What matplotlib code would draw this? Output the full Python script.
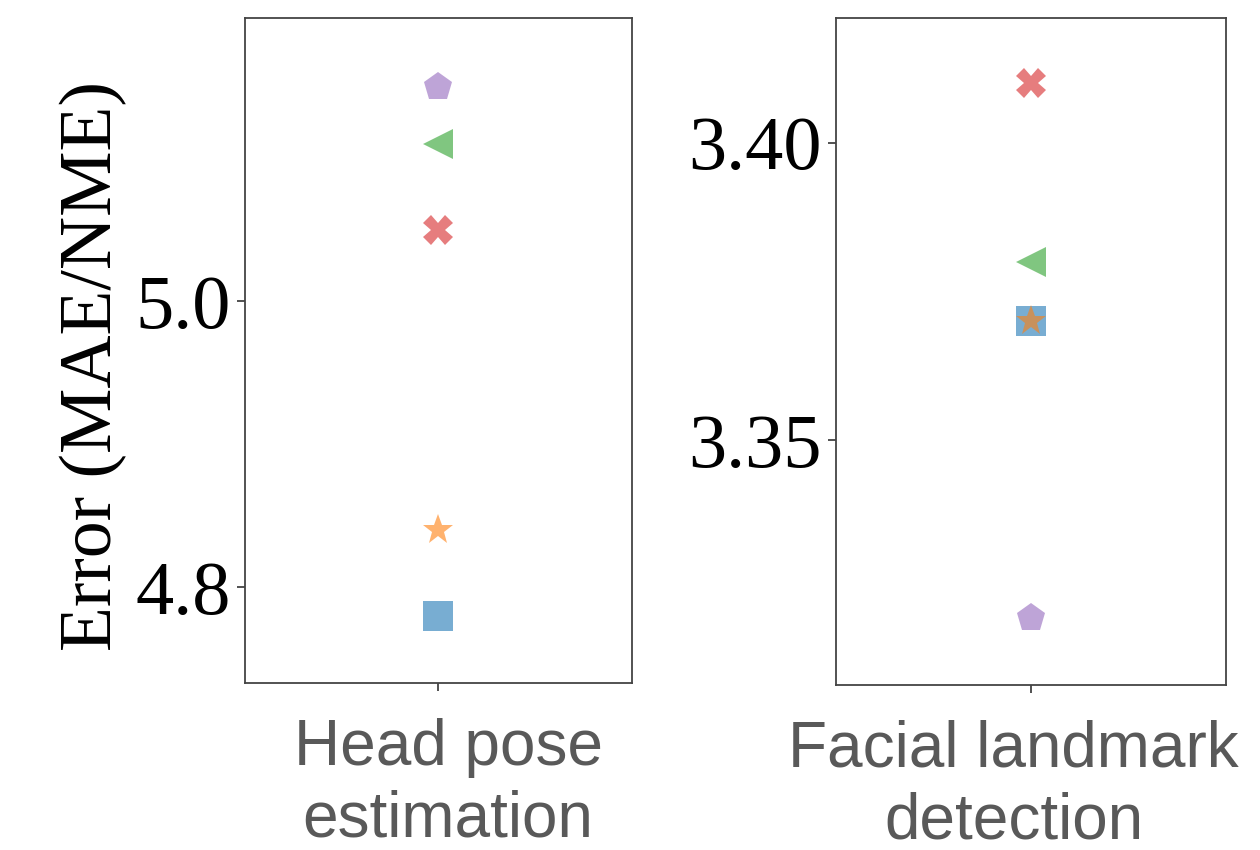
import matplotlib
matplotlib.use("Agg")
import matplotlib.pyplot as plt

# Error values per method (same marker/colour per method in both panels)
methods = ["m1", "m2", "m3", "m4", "m5"]
markers = ["s", "*", "<", "X", "p"]
colors = ["tab:blue", "tab:orange", "tab:green", "tab:red", "tab:purple"]

head_pose_err = [4.78, 4.84, 5.11, 5.05, 5.15]
landmark_err = [3.37, 3.37, 3.38, 3.41, 3.32]

panel_labels = ["Head pose\nestimation", "Facial landmark\ndetection"]
head_pose_ticks = [4.8, 5.0]
landmark_ticks = [3.35, 3.40]

serif = ["Liberation Serif", "DejaVu Serif"]
sans = ["Liberation Sans", "DejaVu Sans"]

fig = plt.figure(figsize=(12.6, 8.5), dpi=100)
ax1 = fig.add_axes([0.1944, 0.1965, 0.307, 0.782])
ax2 = fig.add_axes([0.6635, 0.194, 0.3095, 0.785])

sizes = [21, 23, 22, 21, 21]

for ax, vals, ticks, fmt, lim, label, lx in [
    (ax1, head_pose_err, head_pose_ticks, "{:.1f}", (4.733, 5.198), panel_labels[0], 0.525),
    (ax2, landmark_err, landmark_ticks, "{:.2f}", (3.3088, 3.421), panel_labels[1], 0.455),
]:
    for v, m, c, s in zip(vals, markers, colors, sizes):
        ax.plot([0], [v], marker=m, color=c, alpha=0.6, markersize=s,
                markeredgewidth=0, linestyle="none")
    ax.set_xlim(-1, 1)
    ax.set_ylim(*lim)
    ax.set_xticks([0])
    ax.set_xticklabels([""])
    ax.set_yticks(ticks)
    ax.set_yticklabels([fmt.format(t) for t in ticks], family=serif, fontsize=55)
    ax.tick_params(length=6, width=1.2, color="#333333", pad=4)
    for sp in ax.spines.values():
        sp.set_color("#444444")
        sp.set_linewidth(1.3)
    ax.set_xlabel(label, family=sans, fontsize=46, color="#595959",
                  linespacing=1.25)
    ax.xaxis.set_label_coords(lx, -0.052, transform=ax.transAxes)
    ax.xaxis.label.set_va("top")

ax1.set_ylabel("Error (MAE/NME)", family=serif, fontsize=53)
ax1.yaxis.set_label_coords(-0.305, 0.477)

fig.savefig("out.png", dpi=100)
